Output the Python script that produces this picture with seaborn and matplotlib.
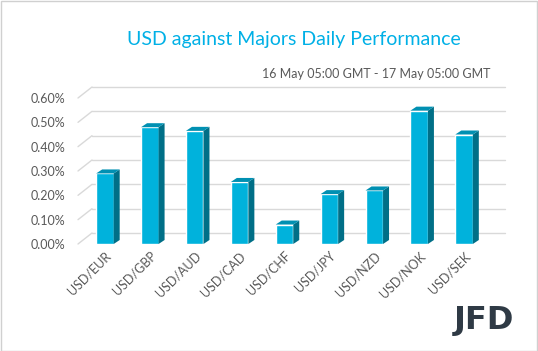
import numpy as np
import pandas as pd
import seaborn as sns
import matplotlib.pyplot as plt
from matplotlib.patches import Polygon
from matplotlib.transforms import ScaledTranslation

# data
pairs = ['USD/EUR', 'USD/GBP', 'USD/AUD', 'USD/CAD', 'USD/CHF',
         'USD/JPY', 'USD/NZD', 'USD/NOK', 'USD/SEK']
change = [0.29, 0.48, 0.465, 0.255, 0.08, 0.205, 0.22, 0.548, 0.45]
yticks = [0.0, 0.1, 0.2, 0.3, 0.4, 0.5, 0.6]

front = '#00b2dc'
side = '#006f87'
top = '#0090b2'
grid = '#d9d9d9'
txt = '#595959'

sns.set_style('white')
plt.rcParams['font.family'] = ['Lato', 'DejaVu Sans']

fig = plt.figure(figsize=(5.38, 3.51), dpi=100)
ax = fig.add_axes([78 / 538, 1 - 244 / 351, 413 / 538, 146 / 351])

df = pd.DataFrame({'pair': pairs, 'change': change})
sns.barplot(data=df, x='pair', y='change', color=front, width=0.39,
            saturation=1, ax=ax, zorder=3)

ax.set_ylim(0, 0.6)
ax.set_xlim(-0.6, 8.6)
ax.set_yticks(yticks)
ax.set_yticklabels(['{:.2f}%'.format(v) for v in yticks], color=txt, fontsize=9)
ax.set_xticks(range(len(pairs)))
ax.set_xticklabels(pairs, rotation=45, ha='right', rotation_mode='anchor',
                   color=txt, fontsize=9)
ax.tick_params(axis='y', length=0, pad=9)
ax.tick_params(axis='x', length=0, pad=4)
ax.set_xlabel('')
ax.set_ylabel('')
sns.despine(ax=ax, left=True, bottom=True)

# back wall gridlines (pushed back in depth) and diagonal stubs
wall = ScaledTranslation(14 / 100, 11 / 100, fig.dpi_scale_trans)
back = ax.get_yaxis_transform() + wall
for v in yticks:
    ax.plot([0, 1], [v, v], transform=back, color=grid, lw=1, clip_on=False, zorder=1)
fig.canvas.draw()
for v in yticks:
    x0, y0 = ax.get_yaxis_transform().transform((0, v))
    ax.plot([x0, x0 + 14], [y0, y0 + 11], transform=None, color=grid, lw=1,
            clip_on=False, zorder=1)

# depth faces for each bar
dx, dy = 6, 4
for p in list(ax.patches):
    (xa, ya), (xb, yb) = ax.transData.transform(
        [(p.get_x(), 0), (p.get_x() + p.get_width(), p.get_height())])
    ax.add_patch(Polygon([(xb, ya), (xb + dx, ya + dy), (xb + dx, yb + dy), (xb, yb)],
                         closed=True, transform=None, facecolor=side,
                         edgecolor='none', zorder=3))
    ax.add_patch(Polygon([(xa, yb), (xb, yb), (xb + dx, yb + dy), (xa + dx, yb + dy)],
                         closed=True, transform=None, facecolor=top,
                         edgecolor='none', zorder=3))

fig.text(294 / 538, 1 - 40 / 351, 'USD against Majors Daily Performance',
         ha='center', va='center', color='#00b0e6', fontsize=14)
fig.text(490 / 538, 1 - 74 / 351, '16 May 05:00 GMT - 17 May 05:00 GMT',
         ha='right', va='center', color=txt, fontsize=9)
fig.text(484 / 538, 1 - 321 / 351, 'JFD', ha='center', va='center',
         color='#2f3a45', fontsize=23, fontweight='bold',
         family=['Liberation Sans Narrow', 'DejaVu Sans'])

fig.patches.append(plt.Rectangle((0.001, 0.001), 0.997, 0.996, transform=fig.transFigure,
                                 fill=False, edgecolor='#d0d0d0', lw=1))

fig.savefig('out.png', dpi=100)
